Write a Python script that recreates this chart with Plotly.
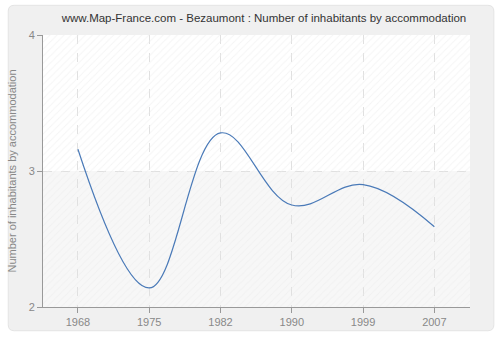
import plotly.graph_objects as go

years = ["1968", "1975", "1982", "1990", "1999", "2007"]
values = [3.16, 2.14, 3.28, 2.75, 2.90, 2.59]
y_ticks = [2, 3, 4]

title = "www.Map-France.com - Bezaumont : Number of inhabitants by accommodation"
y_title = "Number of inhabitants by accommodation"

W, H = 500, 340
ML, MR, MT, MB = 40, 30, 35, 30
PW, PH = W - ML - MR, H - MT - MB

def px(x):
    return (x - ML) / PW

def py(y):
    return (H - MB - y) / PH

xs = list(range(len(years)))
x_lo, x_hi = -0.49, len(years) - 0.5
y_lo, y_hi = y_ticks[0], y_ticks[-1]
y_mid = y_ticks[1]

fig = go.Figure()

# rounded outer panel
x0, y0, x1, y1, r = px(5), py(5), px(494), py(334), 6
rx, ry = r / PW, r / PH
path = (f"M {x0+rx},{y0} L {x1-rx},{y0} Q {x1},{y0} {x1},{y0-ry} "
        f"L {x1},{y1+ry} Q {x1},{y1} {x1-rx},{y1} L {x0+rx},{y1} "
        f"Q {x0},{y1} {x0},{y1+ry} L {x0},{y0-ry} Q {x0},{y0} {x0+rx},{y0} Z")
fig.add_shape(type="path", path=path, xref="paper", yref="paper",
              fillcolor="#f0f0f0", line=dict(color="#e4e4e4", width=1), layer="below")
# background bands of the plot area
fig.add_shape(type="rect", xref="paper", yref="paper", x0=0, x1=1, y0=0.5, y1=1,
              fillcolor="#ffffff", line=dict(width=0), layer="below")
fig.add_shape(type="rect", xref="paper", yref="paper", x0=0, x1=1, y0=0, y1=0.5,
              fillcolor="#f7f7f7", line=dict(width=0), layer="below")

# hatching
fig.add_trace(go.Scatter(
    x=[x_lo, x_hi, x_hi, x_lo, x_lo], y=[y_lo, y_lo, y_hi, y_hi, y_lo],
    mode="lines", line=dict(width=0), fill="toself",
    fillcolor="rgba(0,0,0,0)",
    fillpattern=dict(shape="/", fgcolor="#ebebeb", bgcolor="rgba(0,0,0,0)", size=5, solidity=0.2),
    hoverinfo="skip", showlegend=False))

fig.add_trace(go.Scatter(
    x=xs, y=values, mode="lines",
    line=dict(color="#4a7ab8", width=1.2, shape="spline", smoothing=1.1),
    showlegend=False))

FONT = "Liberation Sans"
fig.update_layout(
    width=W, height=H,
    margin=dict(l=ML, r=MR, t=MT, b=MB),
    paper_bgcolor="#ffffff", plot_bgcolor="rgba(0,0,0,0)",
    font=dict(family=FONT, size=11, color="#888888"),
    title=dict(text=title, x=px(267), xanchor="center", y=1 - 18 / H, yanchor="middle",
               font=dict(family=FONT, size=11.5, color="#333333")),
    xaxis=dict(range=[x_lo, x_hi], tickvals=xs, ticktext=years,
               showgrid=True, gridcolor="#e0e0e0", griddash="dash", gridwidth=1,
               showline=True, linecolor="#999999", linewidth=1,
               ticks="outside", ticklen=5, tickcolor="#999999",
               zeroline=False, tickfont=dict(family=FONT, size=11, color="#888888")),
    yaxis=dict(range=[y_lo, y_hi], tickvals=y_ticks,
               showgrid=True, gridcolor="#e0e0e0", griddash="dash", gridwidth=1,
               showline=True, linecolor="#999999", linewidth=1,
               ticks="outside", ticklen=5, tickcolor="#999999",
               zeroline=False, tickfont=dict(family=FONT, size=11, color="#888888"),
               title=dict(text=y_title, font=dict(family=FONT, size=11, color="#888888"), standoff=9)),
)

fig.write_html("out.html")
